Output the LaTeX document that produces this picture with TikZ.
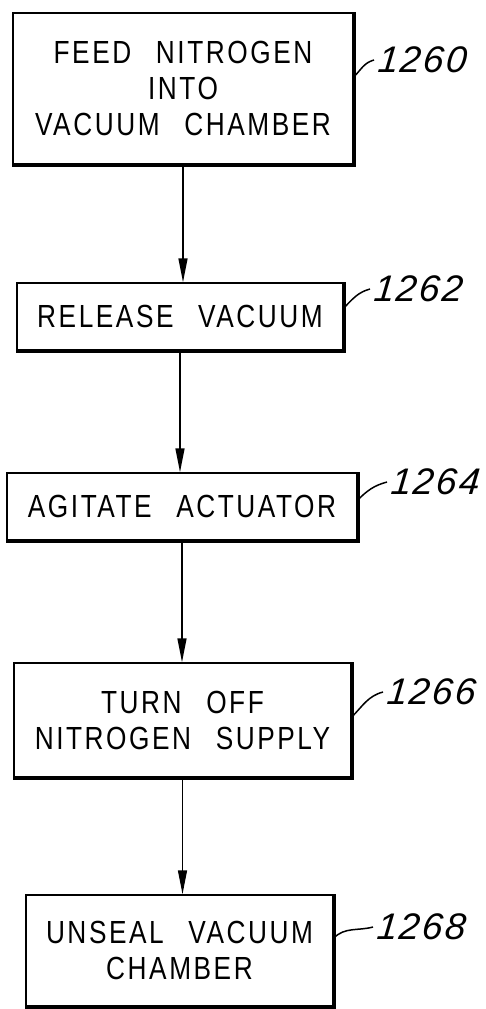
\documentclass[tikz,border=0pt]{standalone}
\usepackage{fontspec}
\setmainfont{Liberation Sans}
\newfontfamily\patentfont[FakeStretch=0.82, LetterSpace=8, WordSpace=2.5]{Liberation Sans}
\newfontfamily\numfont[LetterSpace=6, FakeSlant=0.1]{Liberation Sans Italic}
\usetikzlibrary{arrows.meta}

\begin{document}
\begin{tikzpicture}[x=1pt, y=-1pt,
    stepbox/.style={draw, line width=1.5pt, align=center, inner sep=0pt, font=\patentfont\fontsize{32}{36}\selectfont},
    shadowedge/.style={line width=4pt},
    flowarrow/.style={line width=1.5pt, -{Triangle[length=24pt,width=9pt]}},
    refnum/.style={anchor=west, inner sep=0pt, font=\numfont\fontsize{37}{37}\selectfont},
    leader/.style={line width=1.5pt}
  ]
    \useasboundingbox (0,0) rectangle (485,1009);

    % Steps
    \node[stepbox, minimum width=340pt, minimum height=151pt] (feed) at (183,88.5) {FEED NITROGEN\\INTO\\VACUUM CHAMBER};
    \node[stepbox, minimum width=326pt, minimum height=67pt] (release) at (180,316.5) {RELEASE VACUUM};
    \node[stepbox, minimum width=350pt, minimum height=67pt] (agitate) at (182,506.5) {AGITATE ACTUATOR};
    \node[stepbox, minimum width=337pt, minimum height=114pt] (turnoff) at (182.5,720) {TURN OFF\\NITROGEN SUPPLY};
    \node[stepbox, minimum width=307pt, minimum height=111pt] (unseal) at (179.5,950.5) {UNSEAL VACUUM\\CHAMBER};

    % heavy right and bottom edges
    \foreach \n in {feed,release,agitate,turnoff,unseal}
      \draw[shadowedge] (\n.north east) -- (\n.south east) -- (\n.south west);

    % Flow
    \draw[flowarrow] (feed.south) -- (feed.south |- release.north);
    \draw[flowarrow] (release.south) -- (release.south |- agitate.north);
    \draw[flowarrow] (agitate.south) -- (agitate.south |- turnoff.north);
    \draw[flowarrow] (turnoff.south) -- (turnoff.south |- unseal.north);

    % Reference numerals
    \node[refnum] (n1260) at (377,60) {1260};
    \node[refnum] (n1262) at (373,289) {1262};
    \node[refnum] (n1264) at (390,482) {1264};
    \node[refnum] (n1266) at (386,692) {1266};
    \node[refnum] (n1268) at (376,927) {1268};

    \draw[leader] ([yshift=11.5pt]feed.east) to[out=45, in=195] ([xshift=-3pt]n1260.west);
    \draw[leader] ([yshift=8.5pt]release.east) to[out=45, in=195] ([xshift=-3pt]n1262.west);
    \draw[leader] ([yshift=6.5pt]agitate.east) to[out=45, in=195] ([xshift=-3pt]n1264.west);
    \draw[leader] ([yshift=3pt]turnoff.east) to[out=45, in=195] ([xshift=-3pt]n1266.west);
    \draw[leader] ([yshift=12.5pt]unseal.east) to[out=45, in=195] ([xshift=-3pt]n1268.west);
  \end{tikzpicture}
\end{document}
